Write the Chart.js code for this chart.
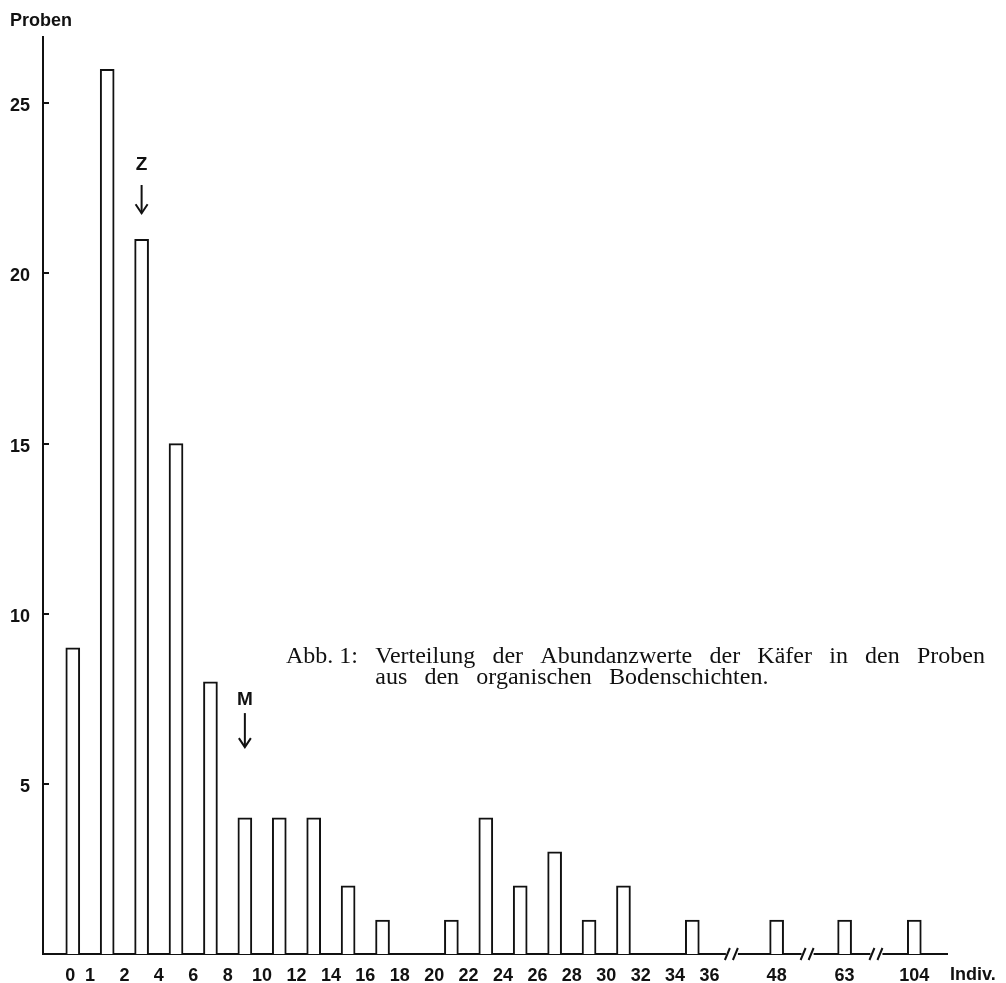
<!DOCTYPE html>
<html><head><meta charset="utf-8">
<script src="https://cdn.jsdelivr.net/npm/chart.js@4.4.1/dist/chart.umd.min.js"></script>
<style>html,body{margin:0;padding:0;background:#fff}#wrap{width:1006px;height:983px;position:relative}</style>
</head><body><div id="wrap"><canvas id="c"></canvas></div>
<script>
// ---- data ----
const barPositions = [-1, 1, 3, 5, 7, 9, 11, 13, 15, 17, 19, 21, 23, 25, 27, 29, 31, 33, 35, 39.9, 43.85, 47.9];
const sampleCounts = [9, 26, 21, 15, 8, 4, 4, 4, 2, 1, 0, 1, 4, 2, 3, 1, 2, 0, 1, 1, 1, 1];
const tickPositions = [-1.15, 0, 2, 4, 6, 8, 10, 12, 14, 16, 18, 20, 22, 24, 26, 28, 30, 32, 34, 36, 39.9, 43.85, 47.9];
const tickLabels = ['0', '1', '2', '4', '6', '8', '10', '12', '14', '16', '18', '20', '22', '24', '26', '28', '30', '32', '34', '36', '48', '63', '104'];
const yTicks = [5, 10, 15, 20, 25];
const breakPositions = [37.3, 41.7, 45.7];
const markerPositions = [3, 9];
const markerLabels = ['Z', 'M'];
const markerLabelLevels = [23.19, 7.46];
const markerArrowFrom = [22.6, 7.08];
const markerArrowTo = [21.77, 6.08];
const yTitle = 'Proben';
const xTitle = 'Indiv.';
const captionLines = ['Abb.\u00a01: Verteilung der Abundanzwerte der Käfer in den Proben', 'aus den organischen Bodenschichten.'];

const SANS = '"Liberation Sans", Arial, sans-serif';
const SERIF = '"Liberation Serif", "Times New Roman", serif';
const INK = '#111';

const decor = {
  id: 'decor',
  afterDraw(chart) {
    const {ctx, chartArea: a, scales: {x, y}} = chart;
    ctx.save();
    ctx.strokeStyle = INK; ctx.fillStyle = INK; ctx.lineWidth = 2; ctx.lineCap = 'butt';
    // inner y tick marks
    yTicks.forEach(v => {
      const py = Math.round(y.getPixelForValue(v));
      ctx.beginPath(); ctx.moveTo(a.left, py); ctx.lineTo(a.left + 6, py); ctx.stroke();
    });
    // axis breaks
    breakPositions.forEach(v => {
      const px = x.getPixelForValue(v), b = a.bottom;
      ctx.fillStyle = '#fff';
      ctx.fillRect(px - 6, b - 3, 12, 6);
      ctx.fillStyle = INK;
      ctx.beginPath();
      ctx.moveTo(px - 7, b + 6); ctx.lineTo(px - 2, b - 6);
      ctx.moveTo(px + 1, b + 6); ctx.lineTo(px + 6, b - 6);
      ctx.stroke();
    });
    // markers Z / M
    ctx.font = 'bold 19px ' + SANS;
    ctx.textAlign = 'center'; ctx.textBaseline = 'middle';
    markerPositions.forEach((v, i) => {
      const px = x.getPixelForValue(v);
      ctx.fillText(markerLabels[i], px, y.getPixelForValue(markerLabelLevels[i]));
      const t = y.getPixelForValue(markerArrowFrom[i]), e = y.getPixelForValue(markerArrowTo[i]);
      ctx.beginPath(); ctx.moveTo(px, t); ctx.lineTo(px, e); ctx.stroke();
      ctx.beginPath(); ctx.moveTo(px - 6, e - 9); ctx.lineTo(px, e); ctx.lineTo(px + 6, e - 9); ctx.stroke();
    });
    // axis titles
    ctx.font = 'bold 18px ' + SANS;
    ctx.textAlign = 'left'; ctx.textBaseline = 'alphabetic';
    ctx.fillText(yTitle, 10, 26);
    ctx.fillText(xTitle, a.right + 3, 980);
    // caption (justified first line)
    ctx.font = '24px ' + SERIF;
    ctx.textBaseline = 'alphabetic';
    const x0 = 286, x1 = 985;
    const w1 = captionLines[0].split(' ');
    const tw = w1.reduce((s, w) => s + ctx.measureText(w).width, 0);
    const gap = (x1 - x0 - tw) / (w1.length - 1);
    let cx = x0; let secondStart = x0;
    w1.forEach((w, i) => { if (i === 1) secondStart = cx; ctx.fillText(w, cx, 663); cx += ctx.measureText(w).width + gap; });
    cx = secondStart;
    captionLines[1].split(' ').forEach(w => { ctx.fillText(w, cx, 684); cx += ctx.measureText(w).width + gap; });
    ctx.restore();
  }
};

new Chart(document.getElementById('c'), {
  type: 'bar',
  data: {
    datasets: [{
      data: barPositions.map((p, i) => ({x: p, y: sampleCounts[i] === 0 ? null : sampleCounts[i]})),
      backgroundColor: '#fff',
      borderColor: INK,
      borderWidth: 2,
      barThickness: 14
    }]
  },
  options: {
    responsive: true,
    maintainAspectRatio: false,
    animation: false,
    layout: {padding: {left: 0, top: 37, right: 59, bottom: 0}},
    plugins: {legend: {display: false}, tooltip: {enabled: false}, title: {display: false}},
    scales: {
      x: {
        type: 'linear', min: -2.73, max: 49.8, offset: false,
        grid: {display: false, offset: false},
        border: {display: true, color: INK, width: 2},
        afterBuildTicks: s => { s.ticks = tickPositions.map(v => ({value: v})); },
        afterFit: s => { s.height = 29; },
        ticks: {
          autoSkip: false, maxRotation: 0, minRotation: 0, padding: 3, color: INK,
          font: {family: SANS, size: 18, weight: 'bold'},
          callback: (v, i) => tickLabels[i]
        }
      },
      y: {
        type: 'linear', min: 0, max: 26.95,
        grid: {display: false},
        border: {display: true, color: INK, width: 2},
        afterBuildTicks: s => { s.ticks = yTicks.map(v => ({value: v})); },
        afterFit: s => { s.width = 43; },
        ticks: {
          padding: 5, color: INK, labelOffset: 3,
          font: {family: SANS, size: 18, weight: 'bold'},
          callback: v => String(v)
        }
      }
    }
  },
  plugins: [decor]
});
</script>
</body></html>
